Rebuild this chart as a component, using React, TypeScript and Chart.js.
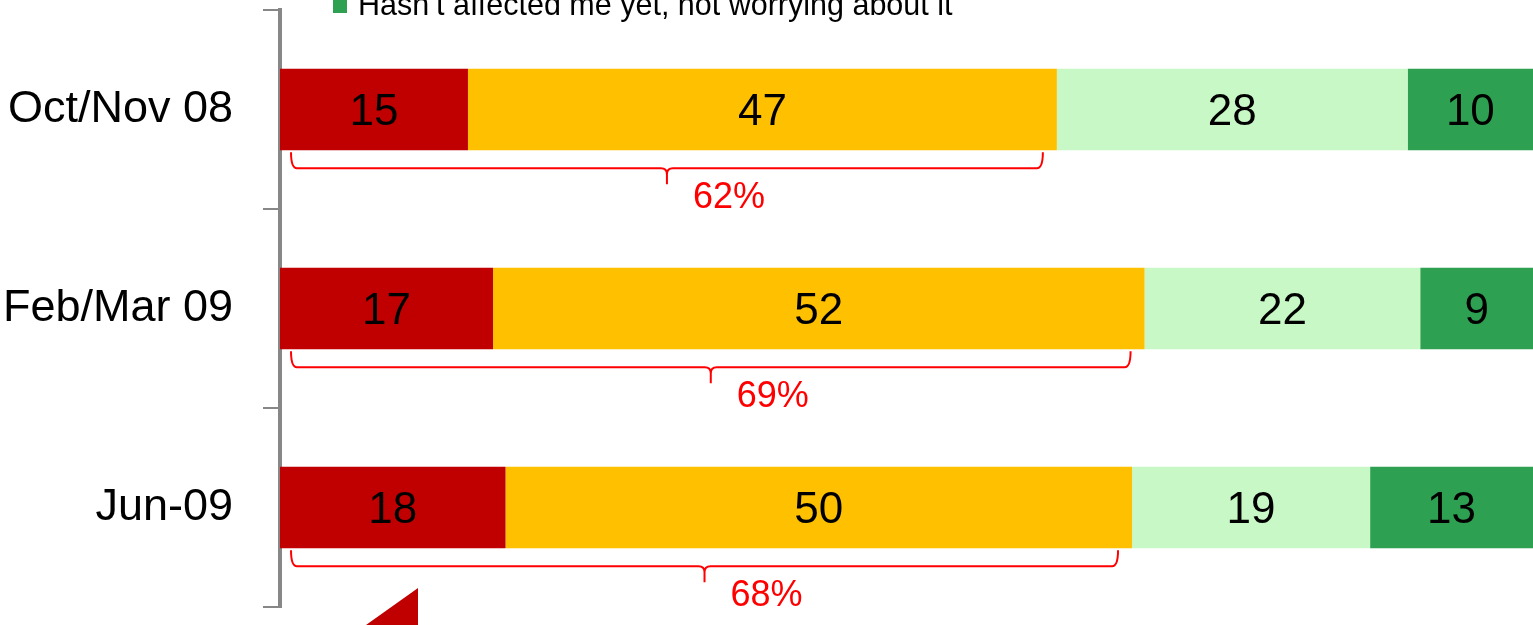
import React, { useEffect, useRef } from "react";
import { Chart, registerables } from "chart.js";

Chart.register(...registerables);

const categories = ["Oct/Nov 08", "Feb/Mar 09", "Jun-09"];
const seriesNames = [
  "Affected me a lot",
  "Affected me a little",
  "Hasn\u2019t affected me yet, but worrying about it",
  "Hasn\u2019t affected me yet, not worrying about it",
];
const affectedLot = [15, 17, 18];
const affectedLittle = [47, 52, 50];
const notYetWorrying = [28, 22, 19];
const notYetNotWorrying = [10, 9, 13];
const seriesColors = ["#C00000", "#FFC000", "#C7F8C5", "#2EA052"];

const FONT = "'Liberation Sans', Arial, sans-serif";

const overlayPlugin = {
  id: "overlay",
  afterDatasetsDraw(chart: any) {
    const ctx = chart.ctx;
    const xs = chart.scales.x;
    const area = chart.chartArea;
    ctx.save();

    // data labels in segments
    ctx.font = `44px ${FONT}`;
    ctx.fillStyle = "#000";
    ctx.textAlign = "center";
    ctx.textBaseline = "middle";
    chart.data.datasets.forEach((ds: any, di: number) => {
      const meta = chart.getDatasetMeta(di);
      meta.data.forEach((el: any, i: number) => {
        const cx = (el.x + el.base) / 2;
        ctx.fillText(String(ds.data[i]), cx, el.y + 3);
      });
    });

    // braces with totals of first two series
    const meta1 = chart.getDatasetMeta(1);
    meta1.data.forEach((el: any, i: number) => {
      const total = affectedLot[i] + affectedLittle[i];
      const barBottom = el.y + el.height / 2;
      const x1 = xs.getPixelForValue(0) + 11;
      const x2 = xs.getPixelForValue(total) - 14;
      const cx = (x1 + x2) / 2;
      const top = barBottom + 2;
      const mid = barBottom + 18;
      const tip = barBottom + 34;
      const r = 6;
      ctx.strokeStyle = "#FF0000";
      ctx.lineWidth = 2;
      ctx.beginPath();
      ctx.moveTo(x1, top);
      ctx.quadraticCurveTo(x1, mid, x1 + r, mid);
      ctx.lineTo(cx - r, mid);
      ctx.quadraticCurveTo(cx, mid, cx, mid + r);
      ctx.lineTo(cx, tip);
      ctx.moveTo(cx, mid + r);
      ctx.quadraticCurveTo(cx, mid, cx + r, mid);
      ctx.lineTo(x2 - r, mid);
      ctx.quadraticCurveTo(x2, mid, x2, top);
      ctx.stroke();

      ctx.font = `36px ${FONT}`;
      ctx.fillStyle = "#FF0000";
      ctx.textAlign = "center";
      ctx.textBaseline = "middle";
      ctx.fillText(`${total}%`, cx + 62, barBottom + 48);
    });

    // legend (only the bottom entry falls inside the picture)
    ctx.font = `30.5px ${FONT}`;
    ctx.textAlign = "left";
    ctx.textBaseline = "alphabetic";
    const n = chart.data.datasets.length;
    chart.data.datasets.forEach((ds: any, di: number) => {
      const baseY = 15 - (n - 1 - di) * 36;
      ctx.fillStyle = ds.backgroundColor;
      ctx.fillRect(333, baseY - 16, 14, 14);
      ctx.fillStyle = "#000";
      ctx.fillText(ds.label, 358, baseY);
    });

    // red arrow head at the bottom
    const ax = area.left + 138;
    const ay = area.bottom - 19;
    ctx.fillStyle = "#C00000";
    ctx.beginPath();
    ctx.moveTo(ax, ay);
    ctx.lineTo(ax, ay + 200);
    ctx.lineTo(ax - (52 / 37) * 200, ay + 200);
    ctx.closePath();
    ctx.fill();

    ctx.restore();
  },
};

export default function App() {
  const ref = useRef<HTMLCanvasElement | null>(null);
  useEffect(() => {
    if (!ref.current) return;
    const values = [affectedLot, affectedLittle, notYetWorrying, notYetNotWorrying];
    const chart = new Chart(ref.current, {
      type: "bar",
      data: {
        labels: categories,
        datasets: values.map((v, i) => ({
          label: seriesNames[i],
          data: v,
          backgroundColor: seriesColors[i],
          borderWidth: 0,
          categoryPercentage: 1,
          barPercentage: 0.41,
        })),
      },
      options: {
        indexAxis: "y",
        animation: false,
        responsive: true,
        maintainAspectRatio: false,
        layout: { padding: { top: 10, bottom: 18, right: 0, left: 0 } },
        plugins: { legend: { display: false }, tooltip: { enabled: false } },
        scales: {
          x: { stacked: true, min: 0, max: 100, display: false },
          y: {
            stacked: true,
            afterFit: (s: any) => {
              s.width = 280;
              s.paddingTop = 0;
              s.paddingBottom = 0;
            },
            grid: {
              display: true,
              drawOnChartArea: false,
              drawTicks: true,
              tickLength: 17,
              offset: true,
              color: "#878787",
              lineWidth: 2,
            },
            border: { display: true, color: "#878787", width: 4 },
            ticks: {
              padding: 30,
              color: "#000",
              font: { family: FONT, size: 45 },
            },
          },
        },
      },
      plugins: [overlayPlugin],
    });
    return () => chart.destroy();
  }, []);
  return (
    <div style={{ position: "absolute", left: 0, top: 0, width: 1533, height: 625 }}>
      <canvas ref={ref} />
    </div>
  );
}
